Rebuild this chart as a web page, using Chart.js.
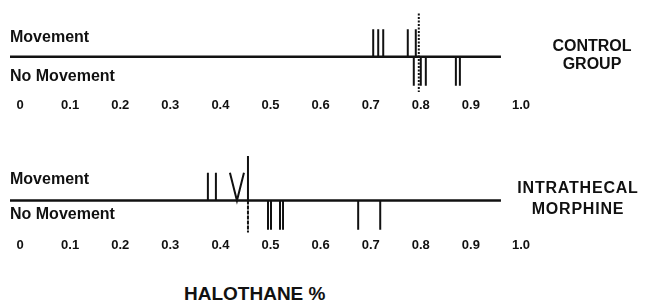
<!DOCTYPE html>
<html>
<head>
<meta charset="utf-8">
<script src="https://cdn.jsdelivr.net/npm/chart.js@4.4.1/dist/chart.umd.min.js"></script>
<style>
body { margin: 0; background: #fff; width: 652px; height: 307px; position: relative; overflow: hidden;
       font-family: "Liberation Sans", Arial, sans-serif; font-weight: bold; color: #111; }
.wrap { position: absolute; left: 0; width: 652px; height: 114px; }
.lbl { position: absolute; white-space: nowrap; line-height: 1; }
.grp { position: absolute; width: 160px; text-align: center; font-size: 16px; }
</style>
</head>
<body>
<div class="wrap" style="top:1px"><canvas id="controlChart"></canvas></div>
<div class="wrap" style="top:143px;height:112px"><canvas id="morphineChart"></canvas></div>

<div class="lbl" style="left:10px;top:29px;font-size:16px">Movement</div>
<div class="lbl" style="left:10px;top:68px;font-size:16px">No Movement</div>
<div class="lbl" style="left:10px;top:171px;font-size:16px">Movement</div>
<div class="lbl" style="left:10px;top:206px;font-size:16px">No Movement</div>
<div class="grp" style="left:512px;top:37px;line-height:18px">CONTROL<br>GROUP</div>
<div class="grp" style="left:498px;top:177px;line-height:21px;letter-spacing:0.8px">INTRATHECAL<br>MORPHINE</div>
<div class="lbl" style="left:184px;top:284px;font-size:19px">HALOTHANE %</div>

<script>
// halothane concentrations (%)
const tickValues = [0, 0.1, 0.2, 0.3, 0.4, 0.5, 0.6, 0.7, 0.8, 0.9, 1.0];

const controlMovement = [0.705, 0.715, 0.725, 0.774, 0.790];
const controlNoMovement = [0.786, 0.800, 0.810, 0.870, 0.878];
const controlMAC = 0.796;

const morphineMovement = [0.375, 0.391];
const morphineMovementV = [0.419, 0.433, 0.447];
const morphineNoMovement = [0.495, 0.501, 0.519, 0.525, 0.675, 0.719];
const morphineMAC = 0.455;

const axisStart = -0.02;
const axisEnd = 0.96;
const ink = '#111';

// vertical ticks: each value becomes a short segment, separated by gaps
function marks(values, yFrom, yTo) {
    const pts = [];
    values.forEach(function(v) {
        pts.push({x: v, y: yFrom}, {x: v, y: yTo}, {x: v, y: null});
    });
    return pts;
}

function lineSet(data, extra) {
    return Object.assign({
        data: data,
        showLine: true,
        borderColor: ink,
        borderWidth: 2,
        pointRadius: 0,
        spanGaps: false
    }, extra || {});
}

function makeChart(id, datasets, yMin, yMax) {
    const ctx = document.getElementById(id).getContext('2d');
    return new Chart(ctx, {
        type: 'scatter',
        data: { datasets: datasets },
        options: {
            responsive: true,
            maintainAspectRatio: false,
            animation: false,
            layout: { padding: { left: 10, right: 131, top: 0, bottom: 0 } },
            plugins: { legend: { display: false }, tooltip: { enabled: false } },
            scales: {
                x: {
                    type: 'linear',
                    min: axisStart,
                    max: 1.0,
                    grid: { display: false, drawTicks: false },
                    border: { display: false },
                    afterBuildTicks: function(scale) {
                        scale.ticks = tickValues.map(function(v) { return { value: v }; });
                    },
                    ticks: {
                        padding: 2,
                        color: ink,
                        font: { family: 'Liberation Sans', size: 13, weight: 'bold' },
                        callback: function(value) {
                            return value === 0 ? '0' : value.toFixed(1);
                        }
                    }
                },
                y: { display: false, min: yMin, max: yMax }
            }
        }
    });
}

makeChart('controlChart', [
    lineSet([{x: axisStart, y: 0}, {x: axisEnd, y: 0}], { borderWidth: 2.5 }),
    lineSet(marks(controlMovement, 0, 1)),
    lineSet(marks(controlNoMovement, 0, -1.05)),
    lineSet([{x: controlMAC, y: 1.58}, {x: controlMAC, y: -1.28}], { borderDash: [2, 1.5] })
], -1.4, 2.03);

makeChart('morphineChart', [
    lineSet([{x: axisStart, y: 0}, {x: axisEnd, y: 0}], { borderWidth: 2.5 }),
    lineSet(marks(morphineMovement, 0, 1)),
    lineSet(morphineMovementV.map(function(v, i) { return {x: v, y: i === 1 ? 0 : 1}; })),
    lineSet(marks(morphineNoMovement, 0, -1.05)),
    lineSet([{x: morphineMAC, y: 1.6}, {x: morphineMAC, y: 0}, {x: morphineMAC, y: -1.15}], {
        segment: { borderDash: function(c) { return c.p0DataIndex === 1 ? [3, 2] : undefined; } }
    })
], -1.25, 2.07);
</script>
</body>
</html>
